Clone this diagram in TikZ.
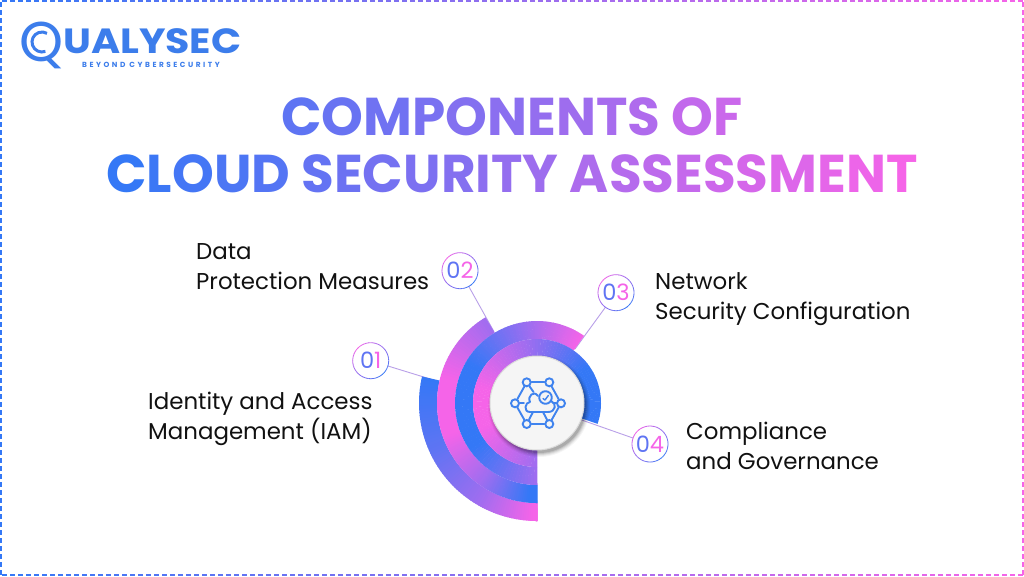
\documentclass[tikz,border=0pt]{standalone}
\usepackage{fontspec}
\setmainfont{Poppins}
\newfontfamily\tagf[LetterSpace=34]{Poppins}
\definecolor{bl}{HTML}{3478F6}
\definecolor{pk}{HTML}{F564E8}
\definecolor{pu}{HTML}{A06DF0}
\definecolor{bp}{HTML}{5F74F3}
\definecolor{lgo}{HTML}{3C7DEB}
\definecolor{wire}{HTML}{B9A0E8}
\definecolor{ico}{HTML}{3F83EE}
\definecolor{txt}{HTML}{111111}
\newcount\gi
\makeatletter
\newcommand\gradline[4]{\gi=0 \@tfor\gx:=#4\do{%
  \pgfmathsetmacro\gp{#2+(#3-#2)*\the\gi/(#1-1)}%
  \textcolor{pk!\gp!bl}{\gx}\advance\gi by 1 }}
\makeatother
% annular gradient segment: r1 r2 a b colA colB
\newcommand\rseg[6]{%
  \foreach \sk in {1,...,24}{%
    \pgfmathsetmacro\sa{#3+(#4-#3)*(\sk-1)/24}%
    \pgfmathsetmacro\sb{#3+(#4-#3)*\sk/24+0.35}%
    \pgfmathsetmacro\st{100*(\sk-0.5)/24}%
    \fill[#6!\st!#5] (\sa:#1) arc[start angle=\sa,end angle=\sb,radius=#1] -- (\sb:#2) arc[start angle=\sb,end angle=\sa,radius=#2] -- cycle;
  }}
\tikzset{
  ttl/.style={font=\bfseries\fontsize{53.2}{60}\selectfont,anchor=base,inner sep=0},
  lbl/.style={font=\fontsize{22.9}{30}\selectfont,text=txt,anchor=base west,inner sep=0,align=left},
  num/.style={circle,minimum size=36pt,inner sep=0,fill=white,font=\fontsize{22.5}{24}\selectfont},
  wireln/.style={draw=wire,line width=0.9pt},
  hub/.style={circle,draw=ico,fill=none,line width=1.9pt,minimum size=8pt,inner sep=0},
  icoln/.style={draw=ico,line width=1.9pt,line cap=round,line join=round},
}
\begin{document}
\begin{tikzpicture}[x=1pt,y=-1pt]
\useasboundingbox (0,0) rectangle (1024,576);
\fill[white] (0,0) rectangle (1024,576);
% dashed frame, blue on the left, pink on the right
\foreach \i in {0,...,127}{
  \pgfmathsetmacro\xa{\i*8+2}
  \pgfmathsetmacro\xb{\i*8+7}
  \pgfmathsetmacro\tm{100*\i/127}
  \draw[pk!\tm!bl,line width=2pt] (\xa,1) -- (\xb,1);
  \draw[pk!\tm!bl,line width=2pt] (\xa,575) -- (\xb,575);
}
\foreach \i in {0,...,71}{
  \pgfmathsetmacro\ya{\i*8+2}
  \pgfmathsetmacro\yb{\i*8+7}
  \draw[bl,line width=2pt] (1,\ya) -- (1,\yb);
  \draw[pk,line width=2pt] (1023,\ya) -- (1023,\yb);
}
% logo
\node[font=\fontsize{56}{60}\selectfont,text=lgo,anchor=base,inner sep=0] (logoq) at (42,61) {Q};
\draw[lgo,line width=1.2pt] (42,41.5) circle[radius=17.4];
\draw[lgo,line width=3pt] (42,42) ++(70:10) arc[start angle=70,end angle=300,radius=10];
\node[font=\bfseries\fontsize{35}{40}\selectfont,text=lgo,anchor=base west,inner sep=0] (logot) at (63,53.5) {\scalebox{1.13}[1]{UALYSEC}};
\node[font=\tagf\bfseries\fontsize{7.4}{9}\selectfont,text=lgo,anchor=base west,inner sep=0] (logotag) at (82,67) {BEYOND CYBERSECURITY};
% title
\node[ttl] (t1) at (512,135) {\gradline{13}{22}{78}{COMPONENTS~OF}};
\node[ttl] (t2) at (512,192) {\gradline{25}{0}{100}{CLOUD~SECURITY~ASSESSMENT}};
% labels
\node[lbl] (l2) at (196,289) {Data\\Protection Measures};
\node[lbl] (l3) at (655,319) {Network\\Security Configuration};
\node[lbl] (l1) at (148,439) {Identity and Access\\Management (IAM)};
\node[lbl] (l4) at (686,469) {Compliance\\and Governance};
% number badges and connectors
\node[num] (n1) at (370.7,360.7) {\textcolor{bp}{0}\textcolor{pk}{1}};
\node[num] (n2) at (460,270.7) {\textcolor{bp}{0}\textcolor{pk}{2}};
\node[num] (n3) at (616,292.7) {\textcolor{bp}{0}\textcolor{pk}{3}};
\node[num] (n4) at (650,444) {\textcolor{bp}{0}\textcolor{pk}{4}};
\coordinate (e1) at (439,381.7);
\coordinate (e2) at (494,331.7);
\coordinate (e3) at (575,349);
\coordinate (e4) at (581.7,420);
\draw[wireln] (n1) -- (e1);
\draw[wireln] (n2) -- (e2);
\draw[wireln] (n3) -- (e3);
\draw[wireln] (n4) -- (e4);
\foreach \cx/\cy in {370.7/360.7,460/270.7,616/292.7,650/444}{
  \begin{scope}[shift={(\cx,\cy)},y=1pt]
    \rseg{17.6}{18.4}{-45}{135}{bl}{pk}
    \rseg{17.6}{18.4}{135}{315}{pk}{bl}
  \end{scope}
}
% rings
\begin{scope}[shift={(537,403)},y=1pt]
  \rseg{100}{118}{167}{205}{bl}{bp}
  \rseg{100}{118}{205}{240}{bp}{pu}
  \rseg{100}{118}{240}{268}{pu}{pk}
  \rseg{100}{118}{268}{270}{pk}{pk}
  \rseg{82}{100}{121}{165}{pu}{pk}
  \rseg{82}{100}{165}{200}{pk}{pk}
  \rseg{82}{100}{200}{235}{pk}{pu}
  \rseg{82}{100}{235}{265}{pu}{bl}
  \rseg{82}{100}{265}{270}{bl}{bl}
  \rseg{64}{82}{55}{95}{pk}{pu}
  \rseg{64}{82}{95}{150}{pu}{bl}
  \rseg{64}{82}{150}{215}{bl}{bl}
  \rseg{64}{82}{215}{270}{bl}{pu}
  \rseg{46}{64}{-19}{35}{bl}{bl}
  \rseg{46}{64}{35}{100}{bl}{pu}
  \rseg{46}{64}{100}{165}{pu}{pk}
  \rseg{46}{64}{165}{205}{pk}{pk}
  \rseg{46}{64}{205}{270}{pk}{pu}
\end{scope}
% centre disc with soft shadow
\foreach \r/\o in {51/0.04,50/0.05,49/0.07,48/0.09,47/0.12}{
  \fill[black,opacity=\o] (539,406) circle[radius=\r];
}
\node[circle,minimum size=94pt,inner sep=0,fill=black!4,draw=black!14,line width=1pt] (hubdisc) at (537,403) {};
% icon
\node[hub] (h1) at (526.7,382.3) {};
\node[hub] (h2) at (549.3,382.3) {};
\node[hub] (h3) at (561,403.3) {};
\node[hub] (h4) at (549.3,424) {};
\node[hub] (h5) at (526.7,424) {};
\node[hub] (h6) at (515,403.3) {};
\draw[icoln] (h1) -- (h2);
\draw[icoln] (h2) -- (h3);
\draw[icoln] (h3) -- (h4);
\draw[icoln] (h4) -- (h5);
\draw[icoln] (h5) -- (h6);
\draw[icoln] (h6) -- (h1);
\draw[icoln] (h1) -- (533.5,392);
\draw[icoln] (h6) -- (524,403.3);
\draw[icoln] (h3) -- (553,403.3);
\draw[icoln] (h5) -- (533,412);
\draw[icoln] (h4) -- (543,412);
\draw[icoln] (538,396) .. controls (534,390) and (527,396) .. (530,402) .. controls (525,402) and (523,412) .. (530,412) -- (548,412) .. controls (556,412) and (557,403) .. (551,401);
\draw[icoln] (545.5,397.5) circle[radius=6.3];
\draw[icoln,line width=1.4pt] (543,398.5) -- (545,400) -- (548.3,395.5);
\end{tikzpicture}
\end{document}
